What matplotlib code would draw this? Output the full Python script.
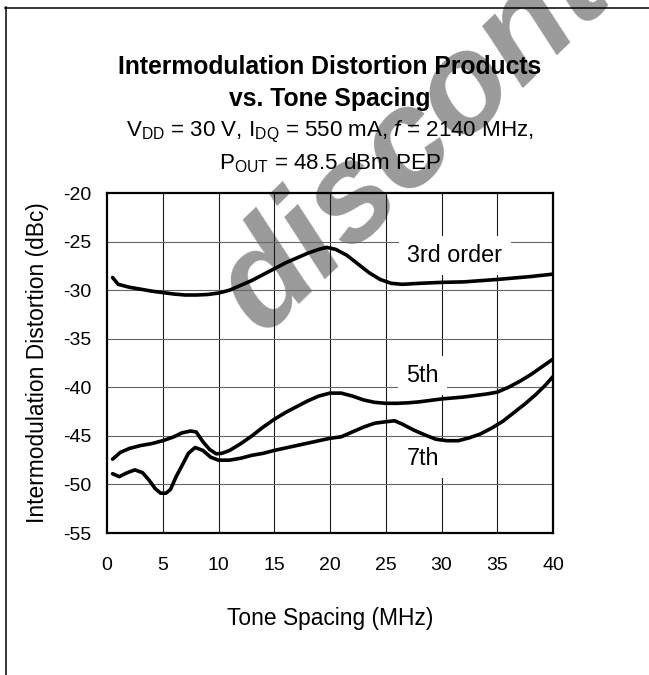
import matplotlib
matplotlib.use("Agg")
import matplotlib.pyplot as plt
from matplotlib.lines import Line2D

plt.rcParams['font.family'] = ['Liberation Sans', 'DejaVu Sans']
plt.rcParams['mathtext.fontset'] = 'custom'
plt.rcParams['mathtext.rm'] = 'Liberation Sans'
plt.rcParams['mathtext.it'] = 'Liberation Sans:italic'
plt.rcParams['axes.unicode_minus'] = False

# tone spacing (MHz) / IMD (dBc)
x_3rd = [0.5, 1.0, 2, 3, 4, 5, 6, 7, 8, 9, 10, 11, 12, 13, 14, 15, 16, 17, 18, 19,
         19.7, 20.5, 21.5, 22.5, 23.5, 24.5, 25.5, 26.5, 28, 30, 32, 35, 38, 40]
y_3rd = [-28.7, -29.4, -29.7, -29.9, -30.1, -30.25, -30.4, -30.5, -30.5, -30.45,
         -30.3, -30.0, -29.5, -29.0, -28.4, -27.8, -27.2, -26.7, -26.2, -25.8,
         -25.6, -25.8, -26.4, -27.3, -28.2, -28.9, -29.3, -29.4, -29.3, -29.2,
         -29.15, -28.9, -28.6, -28.35]

x_5th = [0.5, 1.2, 2, 3, 4, 5, 6, 6.7, 7.5, 8.0, 8.6, 9.2, 9.8, 10.3, 11, 12, 13,
         14, 15, 16, 17, 18, 19, 20, 21, 22, 23, 24, 25, 26, 27, 28, 30, 32, 34,
         35, 36, 37, 38, 39, 40]
y_5th = [-47.4, -46.7, -46.3, -46.0, -45.8, -45.5, -45.1, -44.7, -44.5, -44.6,
         -45.6, -46.4, -46.85, -46.8, -46.5, -45.8, -45.0, -44.1, -43.3, -42.6,
         -42.0, -41.4, -40.9, -40.6, -40.6, -40.9, -41.3, -41.55, -41.65, -41.65,
         -41.6, -41.5, -41.2, -41.0, -40.7, -40.5, -40.0, -39.4, -38.7, -37.9, -37.1]

x_7th = [0.5, 1.1, 1.8, 2.5, 3.2, 3.8, 4.3, 4.8, 5.3, 5.7, 6.2, 6.8, 7.3, 7.9, 8.6,
         9.3, 10, 11, 12, 13, 14, 15, 16, 17, 18, 19, 20, 21, 22, 23, 24, 25, 25.8,
         26.5, 27.5, 28.5, 29.5, 30.5, 31.5, 32.5, 33.5, 34.5, 35.5, 36.5, 37.5,
         38.5, 39.3, 40]
y_7th = [-48.9, -49.2, -48.8, -48.5, -48.8, -49.6, -50.4, -50.9, -50.9, -50.5,
         -49.2, -47.9, -46.8, -46.2, -46.5, -47.2, -47.5, -47.5, -47.3, -47.0,
         -46.8, -46.5, -46.25, -46.0, -45.75, -45.5, -45.25, -45.1, -44.6, -44.1,
         -43.7, -43.55, -43.45, -43.8, -44.4, -44.9, -45.35, -45.5, -45.5, -45.2,
         -44.8, -44.2, -43.5, -42.6, -41.7, -40.7, -39.8, -38.9]

x_ticks = [0, 5, 10, 15, 20, 25, 30, 35, 40]
y_ticks = [-55, -50, -45, -40, -35, -30, -25, -20]

fig = plt.figure(figsize=(6.49, 6.75), dpi=100)
ax = fig.add_axes([107 / 649, 1 - 533 / 675, 446 / 649, 340 / 675])
ax.set_facecolor('none')

# watermark behind everything
fig.text(262 / 649, 1 - 336 / 675, 'discontinued', rotation=44, rotation_mode='anchor',
         ha='left', va='baseline', fontsize=99, fontweight='bold', fontstyle='italic',
         color='#9a9a9a', zorder=-5)

# page frame (left and top edges only)
fig.add_artist(Line2D([5.5 / 649, 5.5 / 649], [0, 1 - 7 / 675], color='black', lw=1.1))
fig.add_artist(Line2D([5 / 649, 1], [1 - 7.5 / 675, 1 - 7.5 / 675], color='black', lw=1.1))

for xv in x_ticks[1:-1]:
    ax.axvline(xv, color='#1a1a1a', lw=0.8, zorder=1)
for yv in y_ticks[1:-1]:
    ax.axhline(yv, color='#666666', lw=0.8, zorder=1)

for xs, ys in [(x_3rd, y_3rd), (x_5th, y_5th), (x_7th, y_7th)]:
    ax.plot(xs, ys, color='black', lw=2.6, solid_capstyle='round', zorder=3)

box = dict(boxstyle='square,pad=0.35', fc='white', ec='none')
ax.text(31.2, -26.45, '3rd order', fontsize=16.8, ha='center', va='center', bbox=box, zorder=2)
ax.text(28.3, -38.8, '5th', fontsize=16.8, ha='center', va='center', bbox=box, zorder=2)
ax.text(28.3, -47.3, '7th', fontsize=16.8, ha='center', va='center', bbox=box, zorder=2)

ax.set_xlim(0, 40)
ax.set_ylim(-55, -20)
ax.set_xticks(x_ticks)
ax.set_yticks(y_ticks)
ax.tick_params(length=0, labelsize=14)
ax.tick_params(axis='y', pad=11)
ax.tick_params(axis='x', pad=17)
for s in ax.spines.values():
    s.set_linewidth(1.6)
    s.set_zorder(4)

ax.set_xlabel('Tone Spacing (MHz)', fontsize=16.4)
ax.xaxis.set_label_coords(0.5, (533 - 619) / 340)
ax.xaxis.label.set_va('center')
ax.set_ylabel('Intermodulation Distortion (dBc)', fontsize=16.4)
ax.yaxis.set_label_coords((38 - 107) / 446, 0.5)
ax.yaxis.label.set_va('center')

cx = 330 / 649
fig.text(cx, 1 - 67 / 675, 'Intermodulation Distortion Products', fontsize=17.8,
         fontweight='bold', ha='center', va='center')
fig.text(cx, 1 - 99 / 675, 'vs. Tone Spacing', fontsize=17.8,
         fontweight='bold', ha='center', va='center')
fig.text(cx, 1 - 132 / 675,
         r'V$_{\mathrm{DD}}$ = 30 V, I$_{\mathrm{DQ}}$ = 550 mA, $\mathit{f}$ = 2140 MHz,',
         fontsize=16.1, ha='center', va='center')
fig.text(cx, 1 - 163 / 675, r'P$_{\mathrm{OUT}}$ = 48.5 dBm PEP',
         fontsize=16.1, ha='center', va='center')

fig.savefig('out.png', dpi=100)
